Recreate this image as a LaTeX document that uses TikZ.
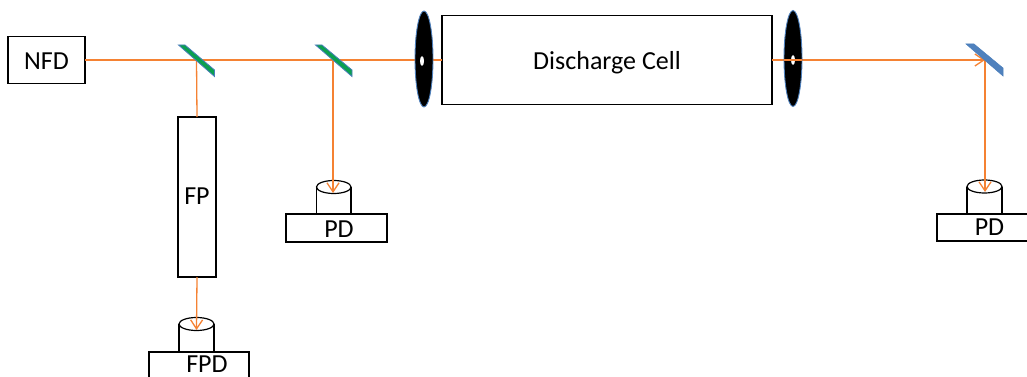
\documentclass[tikz,border=0pt]{standalone}
\usepackage{fontspec}
\setmainfont{Carlito}
\usetikzlibrary{arrows.meta,shapes.geometric}
\definecolor{beam}{HTML}{F58233}
\definecolor{mgreen}{HTML}{0BA04F}
\definecolor{mblue}{HTML}{4A7EBB}
\definecolor{mblue2}{HTML}{4F81BD}
\tikzset{
  x=1pt,y=-1pt,
  every node/.style={font=\fontsize{26}{30}\selectfont,text=black,inner sep=0pt},
  boxn/.style={draw=black,line width=1.4pt,fill=white,rectangle,minimum width=#1,outer sep=0pt},
  ray/.style={draw=beam,line width=1.3pt},
  rayto/.style={ray,-{Straight Barb[length=9pt,width=12pt,line width=1.3pt]}},
  mirror/.style={draw=mblue,line width=.8pt,fill=mgreen},
  lensn/.style={ellipse,draw=mblue2,line width=.9pt,fill=black,minimum width=18pt,minimum height=96pt,outer sep=0pt},
  holen/.style={ellipse,fill=white,minimum width=4pt,minimum height=10pt},
  cyl/.style={draw=black,line width=1.2pt},
}
\begin{document}
\begin{tikzpicture}
\useasboundingbox (0,0) rectangle (1027,377);
\clip (0,0) rectangle (1027,377);
% boxes
\node[boxn=77pt,minimum height=47pt] (nfd) at (46.5,60) {};
\node at (46.5,61) {NFD};
\node[boxn=38pt,minimum height=160pt] (fp) at (197,197) {};
\node at (197,196) {FP};
\node[boxn=330pt,minimum height=89pt] (cell) at (607,60) {};
\node at (607,63) {Discharge Cell};
% named points
\coordinate (m1) at (196.5,60);
\coordinate (m2) at (333,60);
\coordinate (m3) at (985,60);
\coordinate (t1) at (196.5,330);
\coordinate (t2) at (333,193);
\coordinate (t3) at (985,192);
% detectors
\draw[cyl,fill=white] (179,324) -- (179,352) -- (214,352) -- (214,324);
\draw[cyl,fill=white] (196.5,324) ellipse [x radius=17.5,y radius=6.5];
\draw[cyl,fill=white] (316.5,187) -- (316.5,214) -- (351,214) -- (351,187);
\draw[cyl,fill=white] (333.75,187) ellipse [x radius=17.25,y radius=6.5];
\draw[cyl,fill=white] (967,186.5) -- (967,214) -- (1002,214) -- (1002,186.5);
\draw[cyl,fill=white] (984.5,186.5) ellipse [x radius=17.5,y radius=6.5];
\node[boxn=100pt,minimum height=28pt] (fpd) at (199,366) {};
\node at (207,364.5) {FPD};
\node[boxn=101pt,minimum height=28pt] (pd1) at (336.5,228) {};
\node at (339,229) {PD};
\node[boxn=101pt,minimum height=27pt] (pd2) at (987.5,227.5) {};
\node at (989.5,227.5) {PD};
% rays
\draw[ray] (nfd.east) -- (cell.west);
\draw[rayto] (cell.east) -- (m3);
\draw[ray] (m1) -- (fp.north);
\draw[rayto] (fp.south) -- (t1);
\draw[rayto] (m2) -- (t2);
\draw[rayto] (m3) -- (t3);
% lenses
\node[lensn] (l1) at (424,59) {};
\node[holen] (h1) at (422,61) {};
\node[lensn] (l2) at (793,58.5) {};
\node[holen] (h2) at (793,60) {};
\coordinate (l2a) at (l2.west |- cell.east);
\coordinate (l2b) at (l2.east |- cell.east);
\draw[ray] (l2a) -- (l2b);
% mirrors
\draw[mirror] (178.5,45) -- (185,45) -- (214.5,70) -- (214.5,76.5) -- cycle;
\draw[mirror] (315.5,45) -- (322,45) -- (352,70) -- (352,76.5) -- cycle;
\draw[draw=mblue,line width=.5pt,fill=mblue2] (966,44) -- (974,44) -- (1003,68) -- (1003,76) -- cycle;
\end{tikzpicture}
\end{document}
